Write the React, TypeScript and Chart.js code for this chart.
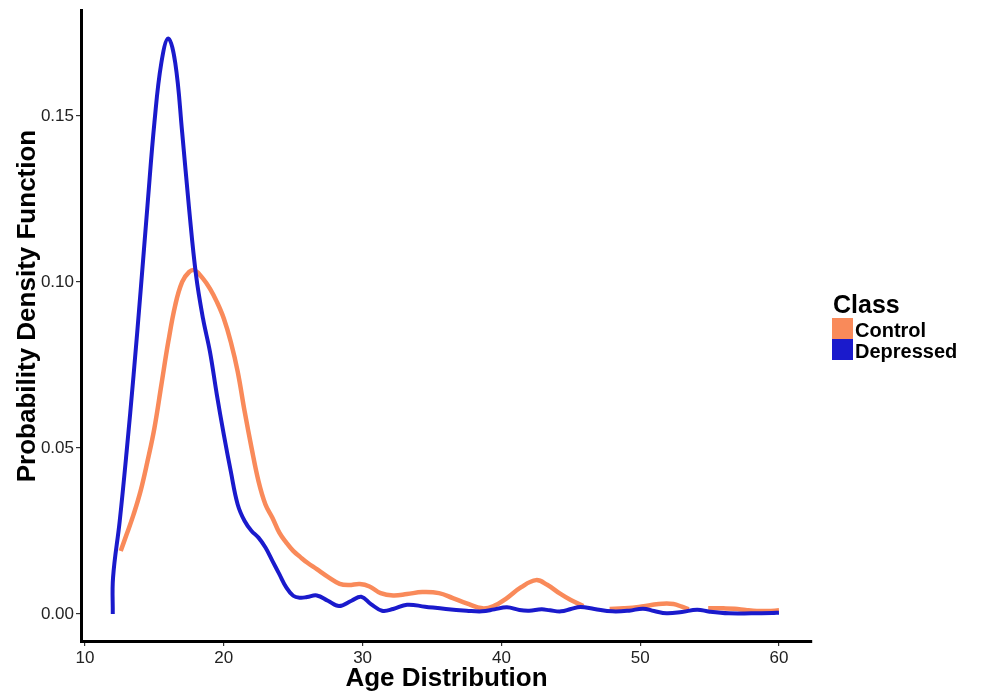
import React, { useEffect, useRef } from "react";
import { Chart, registerables } from "chart.js";

Chart.register(...registerables);

const FONT = "'Liberation Sans', Arial, Helvetica, sans-serif";

const depressedX = [12.0, 12.02, 12.5, 13.0, 13.5, 14.0, 14.5, 15.0, 15.5, 16.0, 16.5, 17.0, 17.5, 18.0, 18.5, 19.0, 19.5, 20.0, 20.5, 21.0, 21.5, 22.0, 22.5, 23.0, 23.5, 24.0, 24.5, 25.0, 25.5, 26.0, 26.7, 27.5, 28.3, 29.2, 29.9, 30.6, 31.4, 32.2, 33.2, 34.5, 36.0, 37.5, 38.6, 39.5, 40.4, 41.3, 42.0, 42.9, 43.5, 44.3, 45.0, 45.7, 46.7, 48.0, 49.2, 50.2, 51.0, 51.9, 53.0, 54.1, 55.0, 56.4, 58.0, 59.5, 60.0];
const depressedY = [0.0, 0.011, 0.028, 0.049, 0.072, 0.097, 0.123, 0.148, 0.166, 0.1733, 0.166, 0.145, 0.122, 0.102, 0.089, 0.079, 0.066, 0.054, 0.043, 0.033, 0.028, 0.025, 0.023, 0.020, 0.016, 0.012, 0.008, 0.0055, 0.0049, 0.0051, 0.0056, 0.0040, 0.0024, 0.0040, 0.0052, 0.0030, 0.0010, 0.0015, 0.0028, 0.0022, 0.0015, 0.0010, 0.0008, 0.0014, 0.0020, 0.0012, 0.0010, 0.0014, 0.0011, 0.0008, 0.0015, 0.0021, 0.0015, 0.0008, 0.0010, 0.0016, 0.0009, 0.0002, 0.0006, 0.0013, 0.0007, 0.0002, 0.0002, 0.0003, 0.0004];

const controlX = [12.57, 13.0, 13.5, 14.0, 14.5, 15.0, 15.5, 16.0, 16.5, 17.0, 17.5, 17.9, 18.5, 19.0, 19.5, 20.0, 20.5, 21.0, 21.5, 22.0, 22.5, 23.0, 23.5, 24.0, 24.5, 25.0, 25.5, 26.0, 26.7, 27.5, 28.35, 29.0, 29.8, 30.5, 31.3, 32.2, 33.2, 34.3, 35.5, 36.5, 37.5, 38.65, 39.5, 40.3, 41.4, 42.5, 43.3, 44.2, 45.0, 45.9, 46.8, 47.8, 48.8, 49.9, 50.8, 51.6, 52.4, 53.0, 53.5, 54.2, 54.9, 56.0, 56.8, 57.6, 58.4, 59.2, 60.0];
const controlY = [0.019, 0.024, 0.030, 0.037, 0.046, 0.056, 0.069, 0.082, 0.093, 0.100, 0.103, 0.1035, 0.101, 0.098, 0.094, 0.089, 0.082, 0.073, 0.061, 0.050, 0.040, 0.033, 0.029, 0.0245, 0.0215, 0.019, 0.0172, 0.0155, 0.0135, 0.0112, 0.0091, 0.0087, 0.009, 0.0083, 0.0063, 0.0056, 0.006, 0.0066, 0.0063, 0.0048, 0.0032, 0.0017, 0.0025, 0.0045, 0.008, 0.0102, 0.0088, 0.0062, 0.0042, 0.0024, null, 0.0015, 0.0017, 0.0021, 0.0027, 0.0031, 0.0030, 0.0022, 0.0014, null, 0.0017, 0.0017, 0.0016, 0.0012, 0.0009, 0.0009, 0.0011];

const xTicks = [10, 20, 30, 40, 50, 60];
const yTicks = [0, 0.05, 0.1, 0.15];

const seriesNames = ["Control", "Depressed"];
const seriesColors = ["#F98A5A", "#1A1ACC"];

const legendTitle = "Class";
const xTitle = "Age Distribution";
const yTitle = "Probability Density Function";

const overlayPlugin = {
  id: "overlay",
  afterDraw(chart: any) {
    const ctx = chart.ctx;
    const area = chart.chartArea;
    ctx.save();
    ctx.fillStyle = "#000";
    ctx.font = `bold 26px ${FONT}`;
    ctx.textAlign = "center";
    ctx.textBaseline = "alphabetic";
    ctx.fillText(xTitle, (area.left + area.right) / 2, 686);
    ctx.save();
    ctx.translate(35, 306);
    ctx.rotate(-Math.PI / 2);
    ctx.fillText(yTitle, 0, 0);
    ctx.restore();
    ctx.textAlign = "left";
    ctx.font = `bold 25px ${FONT}`;
    ctx.fillText(legendTitle, 833, 313);
    ctx.font = `bold 20px ${FONT}`;
    seriesNames.forEach((name, i) => {
      const top = 318 + i * 21;
      ctx.fillStyle = seriesColors[i];
      ctx.fillRect(832, top, 21, 21);
      ctx.fillStyle = "#000";
      ctx.fillText(name, 855, top + 19);
    });
    ctx.restore();
  },
};

export default function App() {
  const ref = useRef<HTMLCanvasElement>(null);
  useEffect(() => {
    if (!ref.current) return;
    const chart = new Chart(ref.current, {
      type: "line",
      data: {
        datasets: [
          {
            label: seriesNames[0],
            data: controlX.map((x, i) => ({ x, y: controlY[i] })) as any,
            borderColor: seriesColors[0],
            borderWidth: 4.5,
            pointRadius: 0,
            fill: false,
            tension: 0.4,
            spanGaps: false,
            order: 2,
          },
          {
            label: seriesNames[1],
            data: depressedX.map((x, i) => ({ x, y: depressedY[i] })) as any,
            borderColor: seriesColors[1],
            borderWidth: 4,
            pointRadius: 0,
            fill: false,
            tension: 0.4,
            order: 1,
          },
        ],
      },
      options: {
        animation: false,
        responsive: false,
        layout: { padding: { top: 10, right: 176, left: 0, bottom: 0 } },
        plugins: { legend: { display: false }, tooltip: { enabled: false } },
        scales: {
          x: {
            type: "linear",
            min: 9.71,
            max: 62.38,
            afterBuildTicks: (s: any) => {
              s.ticks = xTicks.map((v) => ({ value: v }));
            },
            afterFit: (s: any) => {
              s.height = 50;
              s.paddingLeft = 0;
              s.paddingRight = 0;
            },
            ticks: {
              font: { size: 17, family: FONT },
              color: "#222",
              padding: 2,
              maxRotation: 0,
            },
            grid: {
              display: true,
              drawOnChartArea: false,
              drawTicks: true,
              tickLength: 5,
              color: "#333",
              lineWidth: 1.2,
            },
            border: { display: true, color: "#000", width: 3 },
          },
          y: {
            type: "linear",
            min: -0.00813,
            max: 0.1819,
            afterBuildTicks: (s: any) => {
              s.ticks = yTicks.map((v) => ({ value: v }));
            },
            afterFit: (s: any) => {
              s.width = 81;
              s.paddingTop = 0;
              s.paddingBottom = 0;
            },
            ticks: {
              font: { size: 17, family: FONT },
              color: "#222",
              padding: 2,
              callback: (v: any) => Number(v).toFixed(2),
            },
            grid: {
              display: true,
              drawOnChartArea: false,
              drawTicks: true,
              tickLength: 5,
              color: "#333",
              lineWidth: 1.2,
            },
            border: { display: true, color: "#000", width: 3 },
          },
        },
      },
      plugins: [overlayPlugin],
    });
    return () => chart.destroy();
  }, []);
  return (
    <div style={{ position: "fixed", left: 0, top: 0, width: 988, height: 691, background: "#fff" }}>
      <canvas ref={ref} width={988} height={691} style={{ display: "block" }} />
    </div>
  );
}
